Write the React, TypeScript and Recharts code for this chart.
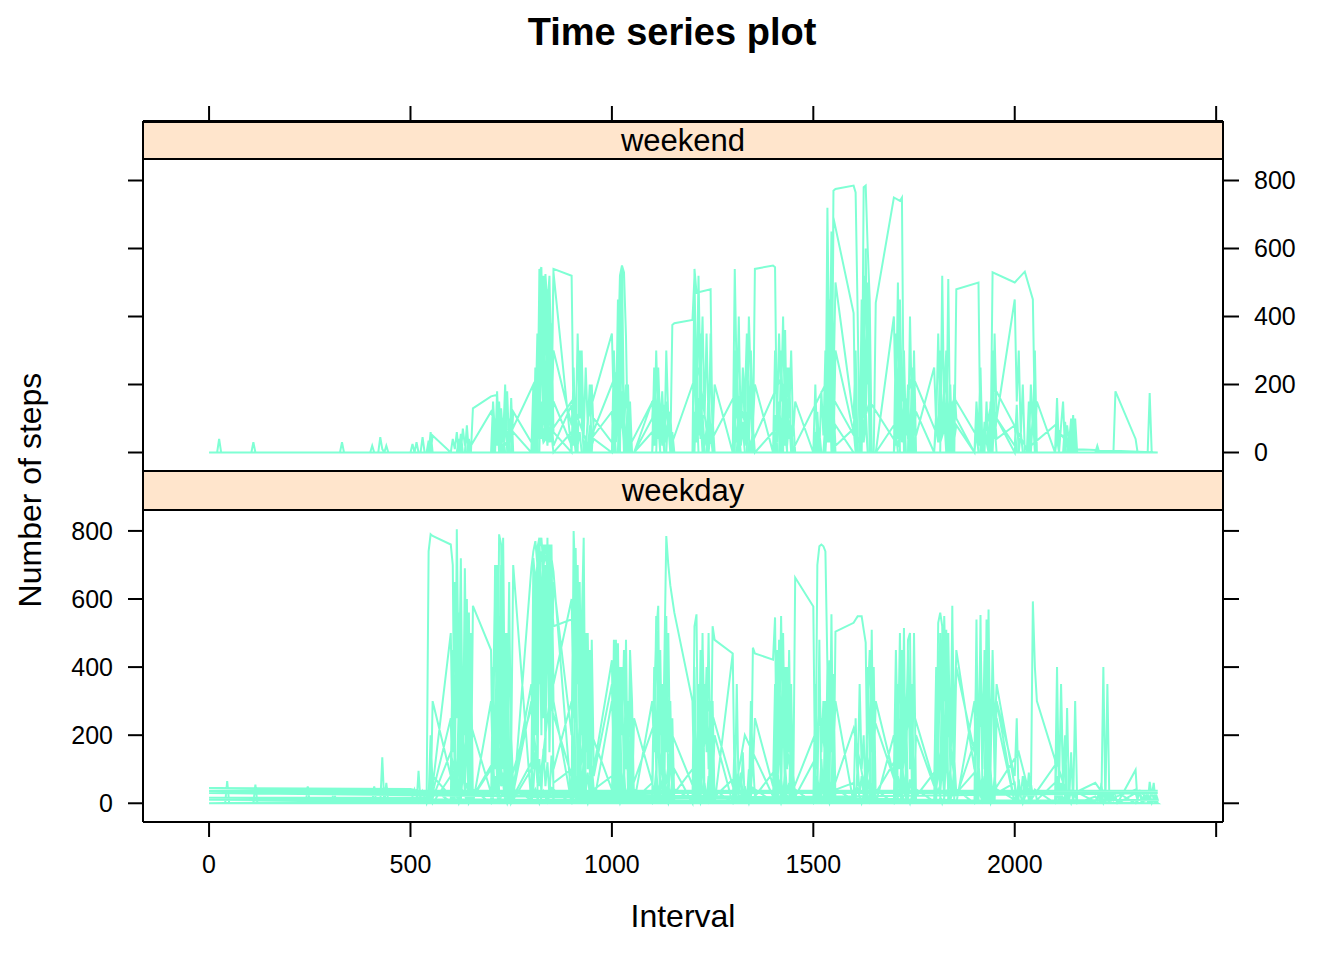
import { Line, LineChart, XAxis, YAxis } from 'recharts';

type Pt = [number, number];

// x ticks along interval axis, y ticks for steps
const xTicks = [0, 500, 1000, 1500, 2000, 2500];
const yTicks = [0, 200, 400, 600, 800];

// weekend days, [interval, steps]
const wkndA: Pt[] = [
  [0, 0], [20, 0], [25, 40], [30, 0], [105, 0], [110, 30], [115, 0], [400, 0], [405, 20], [410, 0],
  [525, 0], [530, 45], [535, 0], [620, 0], [625, 55], [630, 0], [650, 0], [655, 130], [700, 165], [715, 170],
  [720, 0], [745, 0], [750, 160], [755, 0], [805, 0], [810, 250], [815, 60], [820, 530], [825, 545], [830, 90],
  [835, 525], [840, 430], [845, 520], [850, 200], [855, 540], [900, 520], [905, 60], [910, 0], [935, 0], [940, 100],
  [1000, 350], [1005, 120], [1010, 40], [1020, 520], [1025, 550], [1030, 530], [1035, 340], [1040, 0], [1100, 0],
  [1105, 250], [1110, 60], [1115, 200], [1120, 0], [1145, 0], [1150, 375], [1155, 380], [1200, 390], [1205, 520],
  [1210, 150], [1215, 0], [1300, 0], [1305, 540], [1310, 200], [1315, 0], [1400, 0], [1405, 60], [1410, 0],
  [1530, 0], [1535, 720], [1540, 200], [1545, 0], [1550, 770], [1555, 775], [1600, 785], [1605, 765], [1610, 410],
  [1615, 0], [1700, 0], [1705, 60], [1710, 0], [1830, 0], [1835, 510], [1840, 0], [1925, 0], [1930, 150],
  [1935, 0], [2140, 0], [2145, 110], [2150, 0], [2355, 0],
];

const wkndB: Pt[] = [
  [0, 0], [325, 0], [330, 30], [335, 0], [420, 0], [425, 45], [430, 10], [435, 0], [510, 0], [515, 30], [520, 0],
  [545, 0], [550, 60], [555, 0], [635, 0], [640, 80], [645, 0], [710, 0], [715, 180], [720, 40], [725, 0],
  [735, 150], [740, 20], [745, 0], [815, 0], [820, 540], [825, 300], [830, 520], [835, 40], [840, 480], [845, 100],
  [850, 380], [855, 60], [900, 0], [905, 250], [910, 0], [1015, 0], [1020, 300], [1025, 550], [1030, 100],
  [1035, 0], [1130, 0], [1135, 300], [1140, 100], [1145, 0], [1200, 0], [1205, 540], [1210, 470], [1245, 480],
  [1250, 0], [1335, 0], [1340, 400], [1345, 200], [1350, 0], [1355, 540], [1400, 550], [1405, 545], [1410, 0],
  [1425, 0], [1430, 360], [1435, 0], [1500, 0], [1505, 200], [1510, 0], [1545, 0], [1550, 690], [1600, 410],
  [1605, 0], [1620, 0], [1625, 780], [1630, 785], [1635, 600], [1640, 450], [1645, 0], [1650, 0], [1655, 440],
  [1700, 750], [1715, 740], [1720, 750], [1725, 0], [1745, 0], [1750, 300], [1755, 0], [1815, 0], [1820, 520],
  [1825, 100], [1830, 0], [1850, 0], [1855, 480], [1910, 500], [1915, 0], [1940, 0], [1945, 530], [2000, 500],
  [2025, 532], [2045, 450], [2050, 88], [2055, 0], [2100, 0], [2105, 160], [2110, 0], [2245, 0], [2250, 180],
  [2300, 40], [2305, 0], [2330, 0], [2335, 175], [2340, 0], [2355, 0],
];

const wkndC: Pt[] = [
  [0, 0], [545, 0], [550, 30], [555, 0], [615, 0], [620, 40], [625, 0], [700, 0], [705, 90], [710, 30], [715, 120],
  [720, 0], [730, 0], [735, 60], [740, 180], [745, 20], [750, 100], [755, 0], [805, 0], [810, 120], [815, 200],
  [820, 60], [825, 400], [830, 150], [835, 500], [840, 80], [845, 300], [850, 30], [855, 150], [900, 20], [905, 120],
  [910, 0], [945, 0], [950, 200], [955, 50], [1000, 120], [1005, 0], [1010, 80], [1015, 250], [1020, 40],
  [1025, 180], [1030, 0], [1055, 0], [1100, 150], [1105, 40], [1110, 300], [1115, 80], [1120, 0], [1135, 0],
  [1140, 120], [1145, 30], [1150, 60], [1155, 0], [1200, 0], [1205, 300], [1210, 60], [1215, 480], [1220, 100],
  [1225, 0], [1235, 0], [1240, 200], [1245, 40], [1250, 100], [1255, 0], [1310, 0], [1315, 120], [1320, 30],
  [1325, 250], [1330, 60], [1335, 350], [1340, 80], [1345, 150], [1350, 0], [1415, 0], [1420, 300], [1425, 80],
  [1430, 200], [1435, 40], [1440, 250], [1445, 0], [1450, 100], [1455, 0], [1515, 0], [1520, 180], [1525, 50],
  [1530, 300], [1535, 80], [1540, 450], [1545, 120], [1550, 0], [1555, 300], [1600, 60], [1605, 200], [1610, 0],
  [1620, 0], [1625, 350], [1630, 80], [1635, 500], [1640, 100], [1645, 0], [1700, 0], [1705, 200], [1710, 50],
  [1715, 300], [1720, 60], [1725, 150], [1730, 0], [1740, 0], [1745, 250], [1750, 50], [1755, 120], [1800, 0],
  [1805, 100], [1810, 30], [1815, 300], [1820, 60], [1825, 200], [1830, 0], [1840, 0], [1845, 150], [1850, 40],
  [1855, 80], [1900, 0], [1905, 130], [1910, 20], [1915, 200], [1920, 0], [1935, 0], [1940, 150], [1945, 40],
  [1950, 300], [1955, 100], [2000, 0], [2005, 120], [2010, 0], [2035, 0], [2040, 200], [2045, 60], [2050, 300],
  [2055, 0], [2110, 0], [2115, 80], [2120, 150], [2125, 0], [2145, 0], [2150, 100], [2155, 0], [2355, 0],
];

const wkndD: Pt[] = [
  [0, 0], [435, 0], [440, 20], [445, 0], [550, 0], [555, 50], [600, 0], [635, 0], [640, 60], [645, 0], [720, 0],
  [725, 130], [730, 40], [735, 200], [740, 0], [750, 0], [755, 120], [800, 30], [805, 80], [810, 0], [820, 0],
  [825, 350], [830, 80], [835, 250], [840, 60], [845, 450], [850, 100], [855, 530], [900, 0], [915, 0], [920, 300],
  [925, 100], [930, 0], [1020, 0], [1025, 420], [1030, 120], [1035, 0], [1040, 200], [1045, 0], [1110, 0],
  [1115, 180], [1120, 40], [1125, 120], [1130, 0], [1205, 0], [1210, 200], [1215, 50], [1220, 350], [1225, 0],
  [1240, 0], [1245, 350], [1250, 100], [1255, 0], [1305, 0], [1310, 300], [1315, 60], [1320, 0], [1340, 0],
  [1345, 300], [1350, 80], [1355, 200], [1400, 0], [1420, 0], [1425, 200], [1430, 60], [1435, 0], [1505, 0],
  [1510, 120], [1515, 0], [1530, 0], [1535, 420], [1540, 100], [1545, 600], [1550, 150], [1555, 0], [1620, 0],
  [1625, 520], [1630, 200], [1635, 350], [1640, 0], [1655, 0], [1700, 400], [1705, 100], [1710, 500], [1715, 0],
  [1735, 0], [1740, 400], [1745, 100], [1750, 0], [1815, 0], [1820, 400], [1825, 150], [1830, 250], [1835, 0],
  [1845, 0], [1850, 200], [1855, 100], [1900, 0], [1940, 0], [1945, 300], [1950, 80], [1955, 0], [2030, 0],
  [2035, 150], [2040, 0], [2100, 0], [2105, 100], [2110, 0], [2130, 0], [2135, 60], [2140, 0], [2200, 0],
  [2205, 15], [2210, 0], [2355, 0],
];

const wkndE: Pt[] = [
  [0, 0], [600, 0], [605, 40], [610, 10], [615, 60], [620, 0], [700, 0], [705, 50], [710, 100], [715, 30], [720, 80],
  [725, 10], [730, 60], [735, 0], [800, 0], [805, 70], [810, 20], [815, 110], [820, 40], [825, 150], [830, 30],
  [835, 90], [840, 20], [845, 130], [850, 50], [855, 0], [900, 60], [905, 20], [910, 80], [915, 0], [930, 0],
  [935, 50], [940, 0], [950, 0], [955, 100], [1000, 30], [1005, 90], [1010, 0], [1030, 0], [1035, 60], [1040, 20],
  [1045, 90], [1050, 0], [1100, 0], [1105, 80], [1110, 20], [1115, 120], [1120, 40], [1125, 70], [1130, 0],
  [1200, 0], [1205, 100], [1210, 30], [1215, 150], [1220, 40], [1225, 90], [1230, 0], [1240, 0], [1245, 60],
  [1250, 0], [1300, 0], [1305, 90], [1310, 30], [1315, 120], [1320, 20], [1325, 70], [1330, 0], [1345, 0],
  [1350, 80], [1355, 0], [1400, 60], [1405, 0], [1415, 0], [1420, 100], [1425, 40], [1430, 130], [1435, 20],
  [1440, 90], [1445, 0], [1510, 0], [1515, 60], [1520, 0], [1530, 0], [1535, 100], [1540, 30], [1545, 140],
  [1550, 40], [1555, 80], [1600, 0], [1615, 0], [1620, 120], [1625, 30], [1630, 90], [1635, 0], [1700, 0],
  [1705, 110], [1710, 40], [1715, 140], [1720, 30], [1725, 100], [1730, 0], [1740, 0], [1745, 120], [1750, 30],
  [1755, 0], [1800, 0], [1805, 80], [1810, 30], [1815, 130], [1820, 50], [1825, 150], [1830, 20], [1835, 100],
  [1840, 0], [1900, 0], [1905, 60], [1910, 0], [1920, 0], [1925, 90], [1930, 30], [1935, 0], [1945, 0],
  [1950, 120], [1955, 40], [2000, 80], [2005, 0], [2010, 0], [2015, 60], [2020, 0], [2040, 0], [2045, 100],
  [2050, 20], [2055, 0], [2100, 0], [2105, 70], [2110, 0], [2120, 0], [2125, 90], [2130, 20], [2135, 0],
  [2145, 0], [2150, 80], [2155, 0], [2355, 0],
];

const wkndF: Pt[] = [
  [0, 0], [500, 0], [505, 25], [510, 0], [540, 0], [545, 35], [550, 0], [625, 0], [630, 70], [635, 20], [640, 60],
  [645, 0], [700, 0], [705, 150], [710, 50], [715, 130], [720, 0], [800, 0], [805, 200], [810, 80], [815, 350],
  [820, 100], [825, 500], [830, 150], [835, 420], [840, 200], [845, 380], [850, 100], [855, 300], [900, 80],
  [905, 200], [910, 50], [915, 350], [920, 100], [925, 300], [930, 50], [935, 250], [940, 80], [945, 200],
  [950, 0], [1000, 0], [1005, 300], [1010, 80], [1015, 450], [1020, 150], [1025, 350], [1030, 50], [1035, 200],
  [1040, 80], [1045, 150], [1050, 0], [1055, 0], [1100, 100], [1105, 200], [1110, 50], [1115, 250], [1120, 80],
  [1125, 180], [1130, 40], [1135, 150], [1140, 60], [1145, 120], [1150, 0], [1200, 0], [1205, 450], [1210, 150],
  [1215, 520], [1220, 200], [1225, 400], [1230, 100], [1235, 350], [1240, 80], [1245, 300], [1250, 50],
  [1255, 200], [1300, 0], [1305, 300], [1310, 100], [1315, 400], [1320, 50], [1325, 250], [1330, 150],
  [1335, 350], [1340, 100], [1345, 250], [1350, 0], [1400, 0], [1405, 300], [1410, 100], [1415, 350], [1420, 150],
  [1425, 400], [1430, 50], [1435, 250], [1440, 100], [1445, 300], [1450, 50], [1455, 150], [1500, 0], [1530, 0],
  [1535, 450], [1540, 150], [1545, 650], [1550, 200], [1555, 500], [1600, 100], [1605, 300], [1610, 0],
  [1615, 0], [1620, 450], [1625, 100], [1630, 600], [1635, 200], [1640, 350], [1645, 0], [1700, 0], [1705, 350],
  [1710, 100], [1715, 450], [1720, 150], [1725, 300], [1730, 50], [1735, 200], [1740, 0], [1745, 0], [1750, 150],
  [1755, 50], [1800, 250], [1805, 80], [1810, 350], [1815, 100], [1820, 450], [1825, 150], [1830, 300],
  [1835, 50], [1840, 200], [1845, 0], [1900, 0], [1905, 150], [1910, 50], [1915, 250], [1920, 0], [1945, 0],
  [1950, 350], [1955, 100], [2000, 450], [2005, 150], [2010, 300], [2015, 50], [2020, 200], [2025, 0], [2040, 0],
  [2045, 120], [2050, 40], [2055, 150], [2100, 0], [2135, 0], [2140, 90], [2145, 20], [2150, 100], [2155, 0],
  [2355, 0],
];

const wkndG: Pt[] = [
  [0, 0], [615, 0], [620, 30], [625, 0], [640, 0], [645, 40], [650, 0], [705, 0], [710, 60], [715, 20], [720, 150],
  [725, 40], [730, 0], [740, 0], [745, 100], [750, 30], [755, 60], [800, 0], [810, 0], [815, 80], [820, 150],
  [825, 40], [830, 120], [835, 60], [840, 160], [845, 30], [850, 100], [855, 20], [900, 140], [905, 40], [910, 110],
  [915, 20], [920, 60], [925, 0], [940, 0], [945, 80], [950, 20], [955, 40], [1000, 0], [1005, 120], [1010, 30],
  [1015, 150], [1020, 60], [1025, 100], [1030, 20], [1035, 0], [1055, 0], [1100, 60], [1105, 20], [1110, 130],
  [1115, 40], [1120, 90], [1125, 20], [1130, 140], [1135, 30], [1140, 80], [1145, 0], [1200, 0], [1205, 120],
  [1210, 40], [1215, 160], [1220, 60], [1225, 110], [1230, 20], [1235, 70], [1240, 0], [1300, 0], [1305, 100],
  [1310, 30], [1315, 140], [1320, 50], [1325, 90], [1330, 20], [1335, 120], [1340, 40], [1345, 0], [1400, 0],
  [1405, 110], [1410, 30], [1415, 150], [1420, 50], [1425, 100], [1430, 20], [1435, 130], [1440, 40], [1445, 80],
  [1450, 0], [1500, 0], [1505, 60], [1510, 0], [1525, 0], [1530, 90], [1535, 30], [1540, 120], [1545, 50],
  [1550, 140], [1555, 20], [1600, 70], [1605, 0], [1615, 0], [1620, 100], [1625, 40], [1630, 130], [1635, 0],
  [1655, 0], [1700, 80], [1705, 20], [1710, 140], [1715, 50], [1720, 100], [1725, 20], [1730, 130], [1735, 40],
  [1740, 70], [1745, 0], [1800, 0], [1805, 120], [1810, 40], [1815, 150], [1820, 60], [1825, 100], [1830, 30],
  [1835, 140], [1840, 20], [1845, 90], [1850, 0], [1900, 0], [1905, 100], [1910, 30], [1915, 60], [1920, 0],
  [1940, 0], [1945, 130], [1950, 40], [1955, 100], [2000, 20], [2005, 140], [2010, 0], [2030, 0], [2035, 60],
  [2040, 20], [2045, 110], [2050, 0], [2100, 0], [2105, 40], [2110, 0], [2125, 0], [2130, 80], [2135, 30],
  [2140, 100], [2145, 0], [2200, 0], [2205, 20], [2210, 0], [2355, 0],
];

const wkndH: Pt[] = [
  [0, 0], [640, 0], [700, 120], [730, 10], [805, 200], [830, 30], [900, 150], [940, 20], [1010, 230], [1040, 10],
  [1105, 160], [1150, 30], [1215, 250], [1240, 20], [1310, 180], [1345, 20], [1420, 220], [1450, 10], [1530, 200],
  [1610, 30], [1640, 150], [1710, 20], [1745, 230], [1815, 30], [1850, 160], [1920, 20], [1950, 190], [2030, 10],
  [2100, 80], [2140, 10], [2355, 0],
];

// weekday days
const wkdyA: Pt[] = [
  [0, 0], [40, 0], [45, 65], [50, 0], [425, 0], [430, 135], [435, 0], [515, 0], [520, 95], [525, 0], [540, 0],
  [545, 740], [550, 790], [555, 785], [600, 760], [605, 700], [610, 0], [615, 805], [620, 300], [625, 720],
  [630, 100], [635, 690], [640, 200], [645, 560], [650, 0], [700, 0], [705, 300], [710, 650], [715, 100],
  [720, 790], [725, 760], [730, 200], [735, 0], [740, 500], [745, 0], [800, 0], [805, 680], [810, 300], [815, 750],
  [820, 780], [825, 560], [830, 760], [835, 120], [840, 740], [845, 700], [850, 760], [855, 300], [900, 0],
  [905, 800], [910, 620], [915, 0], [930, 780], [935, 0], [1000, 0], [1005, 400], [1010, 0], [1125, 0],
  [1130, 400], [1135, 785], [1140, 700], [1145, 640], [1150, 600], [1155, 560], [1200, 300], [1205, 0],
  [1255, 0], [1300, 440], [1305, 0], [1450, 0], [1455, 663], [1500, 578], [1505, 0], [1510, 700], [1515, 755],
  [1520, 760], [1525, 755], [1530, 740], [1535, 400], [1540, 0], [2040, 0], [2045, 593], [2050, 400],
  [2055, 300], [2100, 128], [2105, 0], [2355, 0],
];

const wkdyB: Pt[] = [
  [0, 0], [600, 0], [605, 400], [610, 410], [620, 560], [625, 0], [650, 0], [655, 580], [700, 450], [705, 0],
  [755, 0], [800, 690], [805, 740], [810, 770], [815, 700], [820, 750], [825, 780], [830, 690], [835, 760],
  [840, 720], [845, 680], [850, 600], [855, 520], [900, 540], [905, 500], [910, 0], [1000, 0], [1005, 480],
  [1010, 200], [1015, 470], [1020, 0], [1100, 0], [1105, 300], [1110, 500], [1115, 580], [1120, 0], [1200, 0],
  [1205, 520], [1210, 555], [1215, 0], [1245, 0], [1250, 520], [1255, 480], [1300, 440], [1305, 0], [1345, 0],
  [1350, 457], [1355, 440], [1400, 422], [1405, 546], [1410, 0], [1550, 0], [1555, 504], [1600, 530],
  [1605, 540], [1610, 549], [1620, 549], [1625, 510], [1630, 472], [1635, 0], [1720, 0], [1725, 515], [1730, 0],
  [1805, 0], [1810, 530], [1815, 560], [1820, 520], [1825, 0], [1840, 0], [1845, 580], [1850, 0], [1910, 0],
  [1915, 553], [1920, 0], [1930, 0], [1935, 569], [1940, 0], [2100, 0], [2105, 400], [2110, 0], [2355, 0],
];

const wkdyC: Pt[] = [
  [0, 45], [500, 42], [545, 30], [550, 0], [620, 0], [625, 650], [630, 100], [640, 600], [645, 0], [650, 500],
  [655, 0], [700, 0], [710, 560], [715, 700], [720, 0], [740, 0], [745, 600], [750, 150], [755, 700], [800, 0],
  [815, 0], [820, 700], [825, 200], [830, 720], [835, 400], [840, 780], [845, 200], [850, 740], [855, 0], [900, 0],
  [905, 600], [910, 350], [915, 700], [920, 200], [925, 500], [930, 0], [945, 0], [950, 480], [955, 100],
  [1000, 420], [1005, 0], [1030, 0], [1035, 480], [1040, 0], [1045, 450], [1050, 300], [1055, 0], [1130, 0],
  [1135, 550], [1140, 0], [1220, 0], [1225, 500], [1230, 0], [1305, 0], [1310, 350], [1315, 0], [1410, 0],
  [1415, 480], [1420, 0], [1425, 380], [1430, 0], [1540, 0], [1545, 555], [1550, 0], [1640, 0], [1645, 510],
  [1650, 0], [1700, 0], [1705, 420], [1710, 0], [1745, 0], [1750, 500], [1755, 0], [1825, 0], [1830, 510],
  [1835, 0], [1900, 0], [1905, 540], [1910, 0], [2125, 0], [2130, 280], [2135, 0], [2215, 0], [2220, 400],
  [2225, 0], [2355, 0],
];

const wkdyD: Pt[] = [
  [0, 35], [540, 35], [545, 0], [550, 100], [555, 30], [600, 250], [605, 0], [610, 150], [615, 50], [620, 300],
  [625, 80], [630, 200], [635, 20], [640, 350], [645, 0], [700, 100], [705, 30], [710, 250], [715, 60], [720, 400],
  [725, 100], [730, 300], [735, 0], [745, 0], [750, 200], [755, 50], [800, 350], [805, 100], [810, 500],
  [815, 150], [820, 600], [825, 200], [830, 650], [835, 300], [840, 550], [845, 150], [850, 450], [855, 100],
  [900, 300], [905, 50], [910, 400], [915, 100], [920, 250], [925, 0], [930, 150], [935, 0], [945, 0], [950, 300],
  [955, 80], [1000, 350], [1005, 60], [1010, 250], [1015, 0], [1020, 200], [1025, 30], [1030, 100], [1035, 0],
  [1050, 0], [1055, 250], [1100, 60], [1105, 350], [1110, 100], [1115, 200], [1120, 0], [1140, 0], [1145, 150],
  [1150, 30], [1155, 100], [1200, 0], [1205, 200], [1210, 40], [1215, 300], [1220, 0], [1225, 150], [1230, 0],
  [1240, 0], [1245, 250], [1250, 50], [1255, 200], [1300, 0], [1320, 0], [1325, 150], [1330, 0], [1340, 0],
  [1345, 300], [1350, 100], [1355, 250], [1400, 50], [1405, 350], [1410, 0], [1415, 200], [1420, 50], [1425, 300],
  [1430, 0], [1440, 0], [1445, 250], [1450, 0], [1500, 0], [1505, 350], [1510, 100], [1515, 400], [1520, 150],
  [1525, 300], [1530, 0], [1535, 200], [1540, 0], [1600, 0], [1605, 250], [1610, 50], [1615, 350], [1620, 100],
  [1625, 200], [1630, 0], [1645, 0], [1650, 300], [1655, 0], [1700, 200], [1705, 50], [1710, 350], [1715, 100],
  [1720, 450], [1725, 150], [1730, 300], [1735, 0], [1750, 0], [1755, 200], [1800, 50], [1805, 400], [1810, 150],
  [1815, 450], [1820, 100], [1825, 500], [1830, 200], [1835, 400], [1840, 100], [1845, 300], [1850, 0], [1900, 0],
  [1905, 250], [1910, 60], [1915, 400], [1920, 100], [1925, 350], [1930, 50], [1935, 450], [1940, 0], [1950, 0],
  [1955, 300], [2000, 80], [2005, 250], [2010, 0], [2020, 0], [2025, 80], [2030, 20], [2035, 90], [2040, 0],
  [2100, 0], [2105, 80], [2110, 20], [2115, 60], [2120, 0], [2135, 0], [2140, 150], [2145, 0], [2210, 0],
  [2215, 60], [2220, 0], [2255, 0], [2300, 98], [2305, 0], [2330, 0], [2335, 63], [2340, 20], [2345, 60],
  [2350, 0], [2355, 0],
];

const wkdyE: Pt[] = [
  [0, 30], [550, 30], [555, 0], [600, 80], [605, 0], [700, 0], [705, 120], [710, 30], [715, 60], [720, 0], [800, 0],
  [805, 720], [810, 650], [815, 700], [820, 640], [825, 740], [830, 700], [835, 730], [840, 690], [845, 760],
  [850, 720], [855, 680], [900, 0], [920, 0], [925, 400], [930, 300], [935, 0], [1015, 0], [1020, 300], [1025, 0],
  [1110, 0], [1115, 420], [1120, 0], [1200, 0], [1205, 400], [1210, 0], [1215, 250], [1220, 0], [1300, 0],
  [1305, 200], [1310, 0], [1420, 0], [1425, 480], [1430, 0], [1440, 0], [1445, 300], [1450, 0], [1510, 0],
  [1515, 480], [1520, 0], [1545, 0], [1550, 350], [1555, 0], [1640, 0], [1645, 350], [1650, 0], [1700, 0],
  [1705, 250], [1710, 0], [1730, 0], [1735, 480], [1740, 500], [1745, 0], [1815, 0], [1820, 480], [1825, 300],
  [1830, 450], [1835, 0], [1855, 0], [1900, 300], [1905, 0], [1925, 0], [1930, 540], [1935, 0], [1950, 0],
  [1955, 250], [2000, 0], [2355, 0],
];

const wkdyF: Pt[] = [
  [0, 10], [545, 10], [550, 40], [555, 80], [600, 20], [605, 60], [610, 100], [615, 30], [620, 70], [625, 10],
  [630, 90], [635, 40], [640, 60], [645, 0], [650, 80], [655, 20], [700, 110], [705, 40], [710, 80], [715, 20],
  [720, 130], [725, 50], [730, 90], [735, 10], [740, 70], [745, 30], [750, 100], [755, 20], [800, 120], [805, 40],
  [810, 150], [815, 60], [820, 130], [825, 30], [830, 160], [835, 50], [840, 120], [845, 20], [850, 140],
  [855, 60], [900, 100], [905, 20], [910, 80], [915, 40], [920, 120], [925, 10], [930, 70], [935, 30], [940, 90],
  [945, 20], [950, 110], [955, 40], [1000, 80], [1005, 10], [1010, 60], [1015, 30], [1020, 90], [1025, 20],
  [1030, 70], [1035, 10], [1040, 50], [1045, 20], [1050, 80], [1055, 10], [1100, 60], [1105, 30], [1110, 100],
  [1115, 20], [1120, 70], [1125, 40], [1130, 120], [1135, 20], [1140, 60], [1145, 10], [1150, 80], [1155, 30],
  [1200, 100], [1205, 40], [1210, 130], [1215, 20], [1220, 90], [1225, 30], [1230, 60], [1235, 10], [1240, 80],
  [1245, 30], [1250, 110], [1255, 20], [1300, 70], [1305, 10], [1310, 60], [1315, 30], [1320, 90], [1325, 20],
  [1330, 50], [1335, 10], [1340, 100], [1345, 40], [1350, 130], [1355, 20], [1400, 90], [1405, 30], [1410, 120],
  [1415, 40], [1420, 80], [1425, 10], [1430, 110], [1435, 30], [1440, 60], [1445, 10], [1450, 90], [1455, 20],
  [1500, 120], [1505, 40], [1510, 80], [1515, 20], [1520, 130], [1525, 30], [1530, 90], [1535, 10], [1540, 70],
  [1545, 20], [1550, 100], [1555, 40], [1600, 60], [1605, 10], [1610, 110], [1615, 30], [1620, 80], [1625, 20],
  [1630, 130], [1635, 40], [1640, 70], [1645, 10], [1650, 90], [1655, 30], [1700, 120], [1705, 20], [1710, 80],
  [1715, 40], [1720, 150], [1725, 30], [1730, 100], [1735, 10], [1740, 70], [1745, 30], [1750, 120], [1755, 20],
  [1800, 90], [1805, 40], [1810, 140], [1815, 30], [1820, 110], [1825, 20], [1830, 150], [1835, 40], [1840, 100],
  [1845, 20], [1850, 130], [1855, 30], [1900, 90], [1905, 10], [1910, 120], [1915, 40], [1920, 80], [1925, 20],
  [1930, 140], [1935, 30], [1940, 100], [1945, 10], [1950, 80], [1955, 30], [2000, 60], [2005, 10], [2010, 70],
  [2015, 20], [2020, 80], [2025, 30], [2030, 50], [2035, 10], [2040, 60], [2045, 20], [2050, 40], [2055, 10],
  [2100, 60], [2105, 20], [2110, 40], [2115, 10], [2120, 50], [2125, 20], [2130, 30], [2135, 10], [2140, 40],
  [2145, 10], [2150, 30], [2155, 0], [2200, 20], [2205, 10], [2210, 30], [2215, 0], [2220, 40], [2225, 10],
  [2230, 20], [2235, 0], [2240, 30], [2245, 10], [2250, 20], [2255, 0], [2300, 30], [2305, 10], [2310, 40],
  [2315, 0], [2320, 20], [2325, 10], [2330, 30], [2335, 0], [2340, 40], [2345, 10], [2350, 30], [2355, 10],
];

const wkdyG: Pt[] = [
  [0, 0], [550, 0], [555, 300], [600, 80], [605, 450], [610, 120], [615, 600], [620, 200], [625, 500], [630, 60],
  [635, 650], [640, 150], [645, 0], [700, 0], [705, 400], [710, 100], [715, 600], [720, 250], [725, 700],
  [730, 100], [735, 500], [740, 200], [745, 650], [750, 0], [800, 100], [805, 600], [810, 200], [815, 700],
  [820, 350], [825, 650], [830, 250], [835, 700], [840, 400], [845, 750], [850, 300], [855, 650], [900, 200],
  [905, 700], [910, 300], [915, 600], [920, 150], [925, 550], [930, 250], [935, 500], [940, 100], [945, 450],
  [950, 0], [1000, 0], [1005, 350], [1010, 100], [1015, 450], [1020, 150], [1025, 400], [1030, 50], [1035, 300],
  [1040, 100], [1045, 350], [1050, 0], [1100, 0], [1105, 400], [1110, 100], [1115, 500], [1120, 200], [1125, 350],
  [1130, 50], [1135, 450], [1140, 150], [1145, 300], [1150, 0], [1215, 0], [1220, 450], [1225, 100], [1230, 350],
  [1235, 150], [1240, 500], [1245, 80], [1250, 300], [1255, 0], [1400, 0], [1405, 300], [1410, 100], [1415, 450],
  [1420, 150], [1425, 500], [1430, 80], [1435, 400], [1440, 150], [1445, 350], [1450, 0], [1530, 0], [1535, 400],
  [1540, 100], [1545, 450], [1550, 150], [1555, 300], [1600, 0], [1630, 0], [1635, 400], [1640, 120], [1645, 480],
  [1650, 100], [1655, 300], [1700, 80], [1705, 450], [1710, 150], [1715, 500], [1720, 100], [1725, 400],
  [1730, 200], [1735, 450], [1740, 100], [1745, 350], [1750, 0], [1800, 0], [1805, 400], [1810, 150], [1815, 500],
  [1820, 200], [1825, 550], [1830, 150], [1835, 450], [1840, 200], [1845, 500], [1850, 100], [1855, 400],
  [1900, 150], [1905, 450], [1910, 100], [1915, 500], [1920, 200], [1925, 400], [1930, 100], [1935, 520],
  [1940, 150], [1945, 400], [1950, 80], [1955, 300], [2000, 0], [2100, 0], [2105, 250], [2110, 50], [2115, 350],
  [2120, 80], [2125, 200], [2130, 0], [2145, 0], [2150, 300], [2155, 0], [2225, 0], [2230, 350], [2235, 0],
  [2355, 0],
];

const wkdyH: Pt[] = [
  [0, 16], [545, 16], [550, 200], [555, 50], [600, 500], [605, 150], [610, 650], [615, 250], [620, 550], [625, 100],
  [630, 400], [635, 200], [640, 600], [645, 50], [650, 0], [655, 0], [700, 300], [705, 100], [710, 700], [715, 300],
  [720, 550], [725, 200], [730, 780], [735, 150], [740, 400], [745, 100], [750, 0], [800, 300], [805, 150],
  [810, 650], [815, 300], [820, 780], [825, 400], [830, 700], [835, 300], [840, 650], [845, 450], [850, 700],
  [855, 350], [900, 600], [905, 250], [910, 750], [915, 350], [920, 650], [925, 200], [930, 600], [935, 150],
  [940, 500], [945, 100], [950, 0], [955, 0], [1000, 300], [1005, 150], [1010, 480], [1015, 100], [1020, 400],
  [1025, 200], [1030, 450], [1035, 100], [1040, 300], [1045, 50], [1050, 0], [1055, 0], [1100, 300], [1105, 150],
  [1110, 550], [1115, 200], [1120, 450], [1125, 100], [1130, 350], [1135, 150], [1140, 500], [1145, 100],
  [1150, 250], [1155, 0], [1210, 0], [1215, 350], [1220, 120], [1225, 480], [1230, 200], [1235, 400], [1240, 100],
  [1245, 300], [1250, 0], [1405, 0], [1410, 450], [1415, 150], [1420, 550], [1425, 200], [1430, 400], [1435, 100],
  [1440, 450], [1445, 50], [1450, 0], [1525, 0], [1530, 300], [1535, 100], [1540, 420], [1545, 150], [1550, 380],
  [1555, 0], [1630, 0], [1635, 300], [1640, 450], [1645, 150], [1650, 400], [1655, 0], [1700, 0], [1705, 350],
  [1710, 100], [1715, 480], [1720, 200], [1725, 350], [1730, 100], [1735, 450], [1740, 150], [1745, 300],
  [1750, 0], [1800, 0], [1805, 300], [1810, 100], [1815, 450], [1820, 250], [1825, 550], [1830, 300], [1835, 500],
  [1840, 150], [1845, 550], [1850, 200], [1855, 450], [1900, 100], [1905, 400], [1910, 200], [1915, 500],
  [1920, 100], [1925, 450], [1930, 250], [1935, 500], [1940, 100], [1945, 450], [1950, 200], [1955, 350],
  [2000, 50], [2005, 0], [2100, 0], [2105, 200], [2110, 80], [2115, 300], [2120, 50], [2125, 150], [2130, 0],
  [2355, 0],
];

const wkdyI: Pt[] = [
  [0, 0], [110, 0], [115, 55], [120, 0], [240, 0], [245, 50], [250, 0], [305, 0], [310, 45], [315, 0], [405, 0],
  [410, 50], [415, 0], [435, 0], [440, 60], [445, 0], [500, 0], [510, 40], [520, 5], [530, 35], [540, 0], [550, 45],
  [600, 5], [610, 40], [620, 0], [630, 35], [640, 10], [650, 45], [700, 0], [710, 40], [720, 5], [730, 35],
  [740, 0], [750, 45], [800, 10], [810, 40], [820, 0], [830, 35], [840, 5], [850, 45], [900, 0], [910, 40],
  [920, 10], [930, 35], [940, 0], [950, 45], [1000, 5], [1010, 40], [1020, 0], [1030, 35], [1040, 10], [1050, 45],
  [1100, 0], [1110, 40], [1120, 5], [1130, 35], [1140, 0], [1150, 45], [1200, 10], [1210, 40], [1220, 0],
  [1230, 35], [1240, 5], [1250, 45], [1300, 0], [1310, 40], [1320, 10], [1330, 35], [1340, 0], [1350, 45],
  [1400, 5], [1410, 40], [1420, 0], [1430, 35], [1440, 10], [1450, 45], [1500, 0], [1510, 40], [1520, 5],
  [1530, 35], [1540, 0], [1550, 45], [1600, 10], [1610, 40], [1620, 0], [1630, 35], [1640, 5], [1650, 45],
  [1700, 0], [1710, 40], [1720, 10], [1730, 35], [1740, 0], [1750, 45], [1800, 5], [1810, 40], [1820, 0],
  [1830, 35], [1840, 10], [1850, 45], [1900, 0], [1910, 40], [1920, 5], [1930, 35], [1940, 0], [1950, 45],
  [2000, 10], [2010, 40], [2020, 0], [2030, 35], [2040, 5], [2050, 40], [2100, 0], [2110, 35], [2120, 10],
  [2130, 30], [2140, 0], [2150, 35], [2200, 5], [2210, 30], [2220, 0], [2230, 30], [2240, 10], [2250, 35],
  [2300, 0], [2310, 30], [2320, 5], [2330, 30], [2340, 0], [2350, 30], [2355, 0],
];

const wkdyJ: Pt[] = [
  [0, 0], [550, 0], [600, 150], [620, 20], [645, 250], [700, 30], [715, 200], [735, 10], [800, 280], [820, 50],
  [845, 300], [915, 20], [935, 250], [1000, 40], [1020, 300], [1045, 30], [1110, 250], [1130, 20], [1150, 200],
  [1215, 10], [1240, 300], [1305, 30], [1330, 200], [1400, 20], [1420, 280], [1450, 40], [1520, 250], [1540, 10],
  [1600, 220], [1630, 30], [1650, 250], [1715, 20], [1740, 300], [1805, 40], [1830, 280], [1855, 20], [1920, 250],
  [1945, 30], [2010, 150], [2040, 10], [2105, 120], [2130, 20], [2200, 60], [2230, 10], [2300, 40], [2355, 0],
];

// days filled with the overall mean
const wkdyFlat: Pt[] = [[0, 37], [2355, 37], [0, 30], [2355, 30]];

const toRows = (days: Pt[][]) => days.flat().map(([interval, steps]) => ({ interval, steps }));

const weekendRows = toRows([wkndA, wkndB, wkndC, wkndD, wkndE, wkndF, wkndG, wkndH]);
const weekdayRows = toRows([wkdyFlat, wkdyI, wkdyF, wkdyJ, wkdyD, wkdyG, wkdyH, wkdyA, wkdyB, wkdyC, wkdyE]);

const FONT = '"Liberation Sans", Arial, sans-serif';
const X_DOMAIN: [number, number] = [-164, 2517];
const LINE_COLOR = '#7fffd4';
const black = { stroke: '#000', strokeWidth: 2 };
const tickText = { fontSize: 25, fill: '#000', fontFamily: FONT };
const blank = () => '';

function Strip({ top, height, label }: { top: number; height: number; label: string }) {
  return (
    <div
      style={{
        position: 'absolute',
        left: 142,
        top,
        width: 1082,
        height,
        boxSizing: 'border-box',
        background: '#ffe5cc',
        border: '2px solid #000',
        fontFamily: FONT,
        fontSize: 31,
        textAlign: 'center',
        lineHeight: `${height - 4}px`,
        color: '#000',
      }}
    >
      {label}
    </div>
  );
}

export default function App() {
  return (
    <div style={{ position: 'absolute', left: 0, top: 0, width: 1344, height: 960, background: '#fff' }}>
      <div
        style={{
          position: 'absolute', left: 0, top: 10, width: 1344, textAlign: 'center',
          fontFamily: FONT, fontSize: 38, fontWeight: 'bold', lineHeight: '44px',
        }}
      >
        Time series plot
      </div>

      <div style={{ position: 'absolute', left: 0, top: 0 }}>
        <LineChart width={1344} height={472} data={weekendRows} margin={{ top: 106, right: 41, bottom: 1, left: 128 }}>
          <XAxis
            type="number" dataKey="interval" orientation="top" domain={X_DOMAIN} ticks={xTicks}
            allowDataOverflow height={15} tickSize={15} tickFormatter={blank}
            axisLine={black} tickLine={black}
          />
          <YAxis
            yAxisId="l" orientation="left" type="number" domain={[-54.4, 975]} ticks={yTicks}
            allowDataOverflow width={15} tickSize={15} tickFormatter={blank}
            axisLine={black} tickLine={black}
          />
          <YAxis
            yAxisId="r" orientation="right" type="number" domain={[-54.4, 975]} ticks={yTicks}
            allowDataOverflow width={80} tickSize={16} tickMargin={15} tick={tickText}
            axisLine={black} tickLine={black}
          />
          <Line
            yAxisId="r" dataKey="steps" type="linear" stroke={LINE_COLOR} strokeWidth={2}
            dot={false} activeDot={false} isAnimationActive={false}
          />
        </LineChart>
      </div>

      <div style={{ position: 'absolute', left: 0, top: 470 }}>
        <LineChart width={1344} height={490} data={weekdayRows} margin={{ top: 1, right: 106, bottom: 78, left: 53 }}>
          <XAxis
            type="number" dataKey="interval" orientation="bottom" domain={X_DOMAIN} ticks={xTicks}
            allowDataOverflow height={60} tickSize={15} tickMargin={18} tick={tickText}
            tickFormatter={(v: number) => (v === 2500 ? '' : String(v))}
            axisLine={black} tickLine={black}
          />
          <YAxis
            yAxisId="l" orientation="left" type="number" domain={[-55, 976]} ticks={yTicks}
            allowDataOverflow width={90} tickSize={15} tickMargin={15} tick={tickText}
            axisLine={black} tickLine={black}
          />
          <YAxis
            yAxisId="r" orientation="right" type="number" domain={[-55, 976]} ticks={yTicks}
            allowDataOverflow width={15} tickSize={16} tickFormatter={blank}
            axisLine={black} tickLine={black}
          />
          <Line
            yAxisId="l" dataKey="steps" type="linear" stroke={LINE_COLOR} strokeWidth={2}
            dot={false} activeDot={false} isAnimationActive={false}
          />
        </LineChart>
      </div>

      <Strip top={121} height={39} label="weekend" />
      <Strip top={470} height={41} label="weekday" />

      <div
        style={{
          position: 'absolute', left: 0, top: 896, width: 1366, textAlign: 'center',
          fontFamily: FONT, fontSize: 32, lineHeight: '40px',
        }}
      >
        Interval
      </div>
      <div style={{ position: 'absolute', left: 30, top: 490, width: 0, height: 0 }}>
        <div
          style={{
            position: 'absolute', left: -200, top: -20, width: 400, textAlign: 'center',
            fontFamily: FONT, fontSize: 32, lineHeight: '40px', transform: 'rotate(-90deg)',
            whiteSpace: 'nowrap',
          }}
        >
          Number of steps
        </div>
      </div>
    </div>
  );
}
